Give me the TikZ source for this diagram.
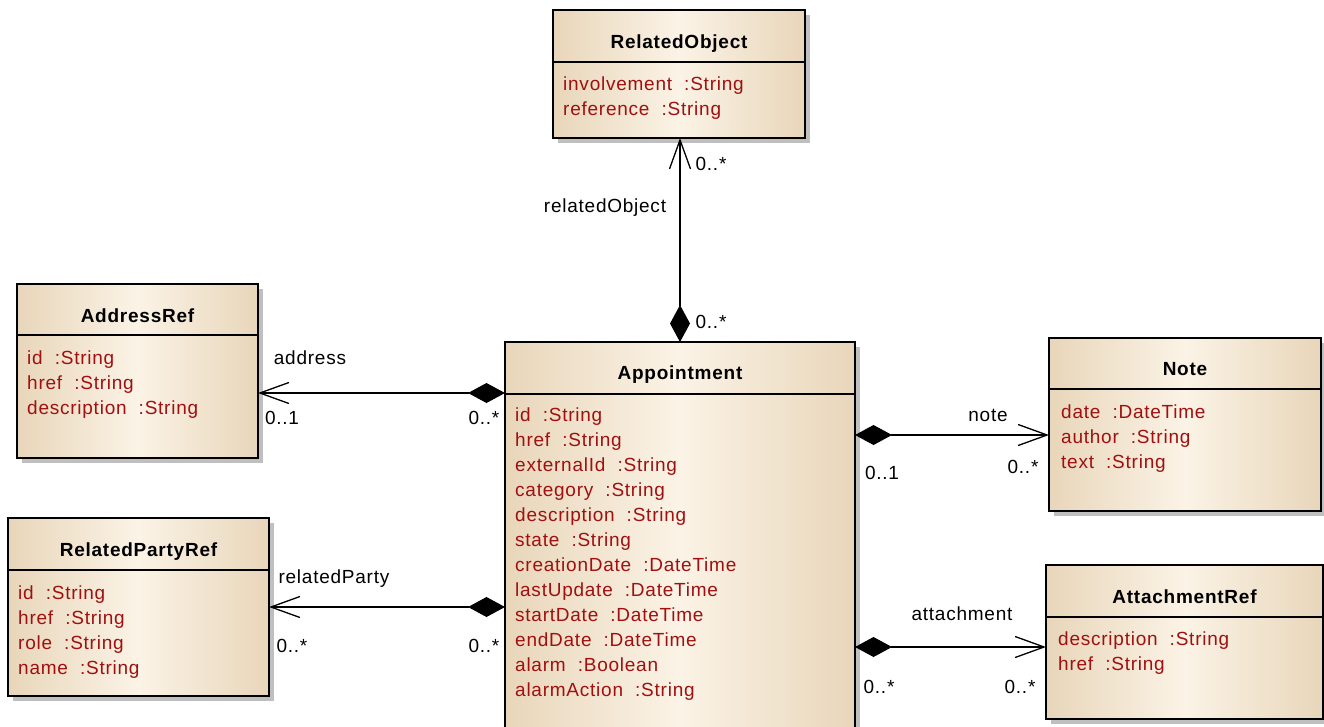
\documentclass[tikz,border=0pt]{standalone}
\usepackage{fontspec}
\setmainfont[LetterSpace=4]{Liberation Sans}
\usetikzlibrary{arrows.meta,calc,shadows}

\definecolor{boxedge}{RGB}{232,214,186}
\definecolor{boxmid}{RGB}{251,243,230}
\definecolor{attrred}{RGB}{160,16,16}

\tikzset{
  umlbox/.style={draw=black, line width=1.3pt, left color=boxedge, right color=boxedge,
    middle color=boxmid, anchor=north west, inner sep=0pt, outer sep=0pt,
    drop shadow={shadow xshift=5pt, shadow yshift=-5pt, fill=black!25, opacity=1}},
  umlline/.style={line width=1.3pt},
  umltitle/.style={font=\fontsize{19}{25}\selectfont\bfseries, anchor=base, inner sep=0pt},
  umlattr/.style={font=\fontsize{19}{25}\selectfont, text=attrred, anchor=base west, inner sep=0pt},
  umllabel/.style={font=\fontsize{19}{25}\selectfont, anchor=base, inner sep=0pt},
  assoc/.style={line width=1.3pt, {Diamond[length=37pt,width=20pt]}-{Straight Barb[length=29pt,width=21pt]}}
}

\begin{document}
\begin{tikzpicture}[x=1pt,y=-1pt]
\useasboundingbox (0,0) rectangle (1324,726);
\clip (0,0) rectangle (1324,726);

\node[umlbox, minimum width=252pt, minimum height=128pt] (robj) at (553,10) {};
\draw[umlline] ($(robj.north west)+(0,52)$) -- ($(robj.north east)+(0,52)$);
\node[umltitle] (robj-t) at ($(robj.north)+(0,38)$) {RelatedObject};
\foreach \a/\t [count=\i] in {involvement/String, reference/String}
    \node[umlattr] (robj-\i) at ($(robj.north west)+(10,{55+25*\i})$) {\a~~:\t};

\node[umlbox, minimum width=241pt, minimum height=174pt] (addr) at (17,284) {};
\draw[umlline] ($(addr.north west)+(0,51)$) -- ($(addr.north east)+(0,51)$);
\node[umltitle] (addr-t) at ($(addr.north)+(0,38)$) {AddressRef};
\foreach \a/\t [count=\i] in {id/String, href/String, description/String}
    \node[umlattr] (addr-\i) at ($(addr.north west)+(10,{55+25*\i})$) {\a~~:\t};

\node[umlbox, minimum width=261pt, minimum height=178pt] (rparty) at (8,518) {};
\draw[umlline] ($(rparty.north west)+(0,52)$) -- ($(rparty.north east)+(0,52)$);
\node[umltitle] (rparty-t) at ($(rparty.north)+(0,38)$) {RelatedPartyRef};
\foreach \a/\t [count=\i] in {id/String, href/String, role/String, name/String}
    \node[umlattr] (rparty-\i) at ($(rparty.north west)+(10,{56+25*\i})$) {\a~~:\t};

\node[umlbox, minimum width=350pt, minimum height=420pt] (appt) at (505,342) {};
\draw[umlline] ($(appt.north west)+(0,52)$) -- ($(appt.north east)+(0,52)$);
\node[umltitle] (appt-t) at ($(appt.north)+(0,37)$) {Appointment};
\foreach \a/\t [count=\i] in {id/String, href/String, externalId/String, category/String,
    description/String, state/String, creationDate/DateTime, lastUpdate/DateTime,
    startDate/DateTime, endDate/DateTime, alarm/Boolean, alarmAction/String}
    \node[umlattr] (appt-\i) at ($(appt.north west)+(10,{54+25*\i})$) {\a~~:\t};

\node[umlbox, minimum width=272pt, minimum height=173pt] (note) at (1049,338) {};
\draw[umlline] ($(note.north west)+(0,51)$) -- ($(note.north east)+(0,51)$);
\node[umltitle] (note-t) at ($(note.north)+(0,37)$) {Note};
\foreach \a/\t [count=\i] in {date/DateTime, author/String, text/String}
    \node[umlattr] (note-\i) at ($(note.north west)+(12,{55+25*\i})$) {\a~~:\t};

\node[umlbox, minimum width=277pt, minimum height=154pt] (attach) at (1046,565) {};
\draw[umlline] ($(attach.north west)+(0,52)$) -- ($(attach.north east)+(0,52)$);
\node[umltitle] (attach-t) at ($(attach.north)+(0,38)$) {AttachmentRef};
\foreach \a/\t [count=\i] in {description/String, href/String}
    \node[umlattr] (attach-\i) at ($(attach.north west)+(12,{55+25*\i})$) {\a~~:\t};

\draw[assoc] (appt.north) -- (appt.north |- robj.south);
\draw[assoc] (appt.west |- 0,393) -- (addr.east |- 0,393);
\draw[assoc] (appt.west |- 0,607) -- (rparty.east |- 0,607);
\draw[assoc] (appt.east |- 0,435) -- (note.west |- 0,435);
\draw[assoc] (appt.east |- 0,647) -- (attach.west |- 0,647);

\node[umllabel] (robj-m) at (711,170) {0..*};
\node[umllabel] (robj-r) at (605,212) {relatedObject};
\node[umllabel] (robj-n) at (711,328) {0..*};

\node[umllabel] (addr-r) at (310,364) {address};
\node[umllabel] (addr-m) at (282,424) {0..1};
\node[umllabel] (addr-n) at (484,424) {0..*};

\node[umllabel] (rparty-r) at (334,583) {relatedParty};
\node[umllabel] (rparty-m) at (292,652) {0..*};
\node[umllabel] (rparty-n) at (484,652) {0..*};

\node[umllabel] (note-r) at (988,421) {note};
\node[umllabel] (note-n) at (882,479) {0..1};
\node[umllabel] (note-m) at (1023,473) {0..*};

\node[umllabel] (attach-r) at (962,620) {attachment};
\node[umllabel] (attach-n) at (879,693) {0..*};
\node[umllabel] (attach-m) at (1020,693) {0..*};

\end{tikzpicture}
\end{document}
